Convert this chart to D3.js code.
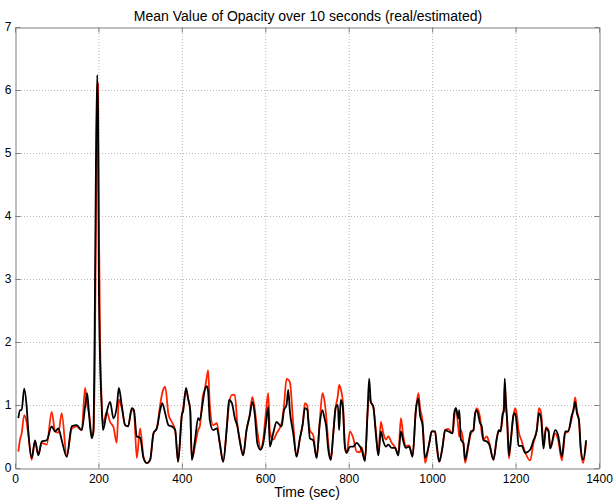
<!DOCTYPE html>
<html><head><meta charset="utf-8">
<script src="https://cdn.jsdelivr.net/npm/d3@7"></script>
<style>body{margin:0;background:#fff;}svg{display:block;font-family:"Liberation Sans",Arial,sans-serif;}</style>
</head><body><svg id="c" width="613" height="500"></svg>
<script>
const title = "Mean Value of Opacity over 10 seconds (real/estimated)";
const xLabel = "Time (sec)";
const xTicks = [0,200,400,600,800,1000,1200,1400];
const yTicks = [0,1,2,3,4,5,6,7];
const time = [8,12,16,22,28,32,40,48,56,64,76,88,96,104,112,124,136,148,160,168,173,178,184,188,191,194,197,199,201,204,207,211,
220,228,236,244,249,256,264,271,280,285,292,300,308,316,324,332,340,348,353,360,368,376,384,391,400,403,410,415,420,424,432,439,443,450,455,460,463,467,475,484,491,499,508,513,520,527,533,539,547,555,563,569,575,581,589,595,602,607,611,619,627,639,645,651,655,659,667,675,
683,690,695,701,703,707,715,723,731,737,741,746,751,757,763,769,774,777,781,786,791,795,803,811,819,827,831,839,845,849,853,859,865,871,877,883,889,895,903,911,919,925,931,937,945,953,961,967,971,977,983,993,999,
1007,1011,1017,1025,1031,1039,1049,1053,1057,1063,1065,1069,1075,1079,1087,1093,1099,1103,1107,1115,1119,1123,1131,1137,1147,1155,1160,1164,1169,1172,1174,1177,1180,1184,1189,1195,1199,1204,1207,1215,1223,1235,1243,1251,1256,1261,1267,1273,1279,1283,1295,1302,1311,1319,1326,1335,1339,1343,1347,1352,1356,1362,1369];
const estimated = [0.79,0.92,0.92,1.26,0.97,0.58,0.16,0.44,0.20,0.42,0.44,0.66,0.58,0.63,0.44,0.18,0.66,0.68,0.60,0.97,1.19,0.81,0.47,0.60,2.2,4.8,6.24,5.6,3.0,1.7,1.1,0.6,
0.89,1.05,0.79,0.97,1.27,0.99,0.68,0.66,0.95,0.92,0.50,0.48,0.16,0.08,0.13,0.55,0.63,0.92,1.03,0.87,0.68,0.66,0.60,0.10,0.84,0.90,1.27,1.10,0.92,0.13,0.47,0.79,0.76,1.03,1.24,1.30,1.21,0.76,0.60,0.63,0.39,0.10,0.66,1.08,1.03,0.79,0.66,0.42,0.20,0.60,0.84,1.05,0.84,0.39,0.29,0.39,0.73,0.97,0.34,0.55,0.73,0.66,0.92,1.00,1.24,0.90,0.55,0.18,
0.47,0.71,0.95,0.92,0.76,0.47,0.44,0.16,0.73,0.92,0.82,0.66,0.29,0.13,0.55,0.97,1.00,0.60,1.08,0.95,0.32,0.24,0.34,0.34,0.40,0.34,0.29,0.11,0.86,1.42,1.05,0.97,0.55,0.20,0.58,0.42,0.34,0.37,0.32,0.32,0.20,0.58,0.42,0.32,0.34,0.18,0.92,1.10,0.84,0.68,0.16,0.39,0.58,
0.58,0.37,0.10,0.34,0.60,0.58,0.55,0.88,0.95,0.79,0.92,0.45,0.39,0.13,0.39,0.58,0.60,0.87,0.92,0.71,0.66,0.44,0.42,0.37,0.13,0.47,0.60,0.58,0.86,0.90,1.42,1.00,0.75,0.20,0.47,0.84,0.87,0.60,0.35,0.35,0.24,0.29,0.44,0.60,0.87,0.79,0.31,0.63,0.58,0.31,0.60,0.52,0.18,0.58,0.58,0.84,0.92,1.05,0.87,0.76,0.34,0.13,0.44];
const real = [0.26,0.45,0.55,0.84,0.72,0.52,0.13,0.42,0.22,0.40,0.37,0.89,0.58,0.56,0.87,0.18,0.62,0.66,0.60,1.27,1.00,0.85,0.50,0.55,1.5,3.8,6.0,6.1,4.0,2.0,1.2,0.7,
0.89,0.73,0.65,0.40,1.09,0.95,0.68,0.66,0.92,0.90,0.16,0.63,0.18,0.08,0.13,0.55,0.63,1.00,1.19,1.29,0.85,0.73,0.60,0.10,0.84,0.95,1.24,1.10,0.92,0.13,0.37,0.60,0.66,1.13,1.25,1.45,1.55,1.00,0.68,0.71,0.39,0.10,0.66,1.00,1.16,1.16,0.70,0.45,0.20,0.60,0.86,1.13,0.92,0.58,0.31,0.45,0.92,1.19,0.58,0.45,0.55,0.71,1.00,1.42,1.40,1.36,0.70,0.18,
0.47,0.71,1.03,0.98,0.80,0.60,0.52,0.16,0.78,1.19,1.10,0.83,0.40,0.13,0.55,0.97,1.15,1.32,1.25,1.05,0.35,0.24,0.58,0.47,0.26,0.25,0.33,0.13,0.86,1.15,1.05,0.97,0.60,0.20,0.73,0.55,0.45,0.50,0.40,0.33,0.22,0.79,0.50,0.35,0.36,0.18,0.92,1.19,0.95,0.75,0.08,0.39,0.58,
0.58,0.33,0.10,0.34,0.60,0.62,0.55,0.80,0.95,0.62,0.50,0.60,0.40,0.08,0.35,0.55,0.60,0.85,0.95,0.80,0.55,0.45,0.50,0.40,0.13,0.47,0.60,0.58,0.80,1.00,1.30,1.05,0.70,0.15,0.45,0.84,0.95,0.80,0.60,0.42,0.25,0.12,0.40,0.62,0.95,0.88,0.40,0.65,0.60,0.31,0.55,0.45,0.12,0.55,0.58,0.80,0.95,1.12,0.92,0.75,0.30,0.08,0.40];

const svg = d3.select("#c");
const m = {l:15, r:599, t:27, b:468};
const x = d3.scaleLinear().domain([0,1400]).range([m.l, m.r]);
const y = d3.scaleLinear().domain([0,7]).range([m.b, m.t]);

// grid
const g = svg.append("g");
g.selectAll(".gx").data(xTicks.slice(1,-1)).enter().append("line")
  .attr("x1",d=>x(d)+0.5).attr("x2",d=>x(d)+0.5).attr("y1",m.t).attr("y2",m.b)
  .attr("stroke","#b8b8b8").attr("stroke-width",1).attr("stroke-dasharray","1,2");
g.selectAll(".gy").data(yTicks.slice(1,-1)).enter().append("line")
  .attr("y1",d=>y(d)+0.5).attr("y2",d=>y(d)+0.5).attr("x1",m.l).attr("x2",m.r)
  .attr("stroke","#b8b8b8").attr("stroke-width",1).attr("stroke-dasharray","1,2");

const line = d3.line().x((d,i)=>x(time[i])).y(d=>y(d)).curve(d3.curveMonotoneX);
svg.append("path").attr("d",line(real)).attr("fill","none").attr("stroke","#ff2200").attr("stroke-width",1.8).attr("stroke-linejoin","round");
svg.append("path").attr("d",line(estimated)).attr("fill","none").attr("stroke","#000").attr("stroke-width",1.8).attr("stroke-linejoin","round");

// axes (MATLAB style inward ticks)
const fmt = d3.format("d");
const axB = svg.append("g").attr("transform",`translate(0,${m.b+0.5})`)
  .call(d3.axisBottom(x).tickValues(xTicks).tickFormat(fmt).tickSizeInner(-5).tickSizeOuter(0).tickPadding(6));
const axL = svg.append("g").attr("transform",`translate(${m.l+0.5},0)`)
  .call(d3.axisLeft(y).tickValues(yTicks).tickFormat(fmt).tickSizeInner(-5).tickSizeOuter(0).tickPadding(4));
const axT = svg.append("g").attr("transform",`translate(0,${m.t+0.5})`)
  .call(d3.axisTop(x).tickValues(xTicks).tickSizeInner(-5).tickSizeOuter(0).tickFormat(""));
const axR = svg.append("g").attr("transform",`translate(${m.r+0.5},0)`)
  .call(d3.axisRight(y).tickValues(yTicks).tickSizeInner(-5).tickSizeOuter(0).tickFormat(""));
[axB,axL,axT,axR].forEach(a=>{
  a.select(".domain").attr("stroke","#808080");
  a.selectAll(".tick line").attr("stroke","#808080");
  a.selectAll("text").attr("fill","#000").style("font-size","12px").style("font-family","'Liberation Sans',Arial,sans-serif");
});
axL.selectAll("text").attr("dy","0.32em");

svg.append("text").attr("x",(m.l+m.r)/2+1).attr("y",21).attr("text-anchor","middle")
  .style("font-size","14px").text(title);
svg.append("text").attr("x",(m.l+m.r)/2).attr("y",497).attr("text-anchor","middle")
  .style("font-size","14px").text(xLabel);
</script></body></html>
